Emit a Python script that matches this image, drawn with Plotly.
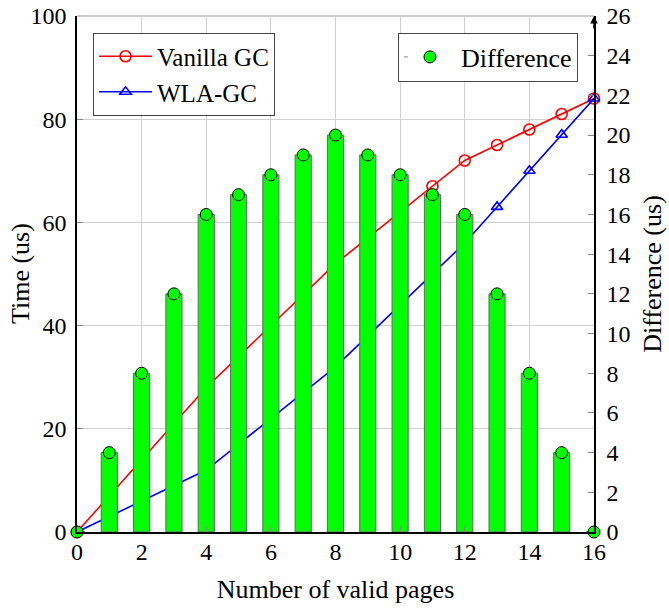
import plotly.graph_objects as go

pages = list(range(17))
vanilla = [0, 7, 14, 21, 28, 34, 40, 46, 52, 57, 62, 67, 72, 75, 78, 81, 84]
wla = [0, 3, 6, 9, 12, 17, 22, 27, 32, 38, 44, 50, 56, 63, 70, 77, 84]
diff = [0, 4, 8, 12, 16, 17, 18, 19, 20, 19, 18, 17, 16, 12, 8, 4, 0]
x_ticks = list(range(0, 17, 2))
y_ticks = list(range(0, 101, 20))
y2_ticks = list(range(0, 27, 2))

FONT = "Liberation Serif"
TICK = 24
TITLE = 26
LEG = 25
fig = go.Figure()

fig.add_trace(go.Scatter(
    x=pages, y=vanilla, name="Vanilla GC", mode="lines+markers",
    line=dict(color="#ff0000", width=1.6),
    marker=dict(symbol="circle-open", size=11, color="#ff0000", line=dict(width=1.6)),
    legend="legend", cliponaxis=False, xaxis="x", yaxis="y"))
fig.add_trace(go.Scatter(
    x=pages, y=wla, name="WLA-GC", mode="lines+markers",
    line=dict(color="#0000ff", width=1.6),
    marker=dict(symbol="triangle-up-open", size=10, color="#0000ff", line=dict(width=1.6)),
    legend="legend", cliponaxis=False, xaxis="x", yaxis="y"))

fig.add_trace(go.Bar(
    x=pages, y=diff, width=0.5, showlegend=False,
    marker=dict(color="#00ff00", line=dict(color="#666666", width=1)),
    xaxis="x", yaxis="y2"))
fig.add_trace(go.Scatter(
    x=pages, y=diff, mode="markers", showlegend=False,
    marker=dict(symbol="circle", size=12, color="#00ff00", line=dict(color="#000000", width=1)),
    cliponaxis=False, xaxis="x", yaxis="y2"))
# legend entry for Difference
fig.add_trace(go.Scatter(
    x=[None], y=[None], name="Difference", mode="lines+markers",
    line=dict(color="#888888", width=1, dash="4px,22px"),
    marker=dict(symbol="circle", size=12, color="#00ff00", line=dict(color="#000000", width=1)),
    legend="legend2", xaxis="x", yaxis="y2"))

fig.update_layout(
    width=669, height=609,
    margin=dict(l=77, r=75, t=16, b=77),
    plot_bgcolor="white", paper_bgcolor="white",
    font=dict(family=FONT, size=TITLE, color="#000000"),
    showlegend=True,
    xaxis=dict(
        range=[0, 16], tickvals=x_ticks, ticks="inside", ticklen=5, tickcolor="#888888",
        showgrid=True, gridcolor="#d0d0d0", gridwidth=1, zeroline=False,
        showline=True, linecolor="#000000", linewidth=1.5, automargin=False,
        ticklabelstandoff=-3, ticklabeloverflow="allow",
        title=dict(text="Number of valid pages", standoff=16, font=dict(size=TITLE)),
        tickfont=dict(size=TICK),
    ),
    yaxis=dict(
        range=[0, 100], tickvals=y_ticks, ticks="inside", ticklen=6, tickcolor="#888888",
        showgrid=True, gridcolor="#d0d0d0", gridwidth=1, zeroline=False,
        showline=True, linecolor="#000000", linewidth=1.5, automargin=False,
        ticklabelstandoff=4, ticklabeloverflow="allow",
        tickfont=dict(size=TICK),
    ),
    yaxis2=dict(
        range=[0, 26], tickvals=y2_ticks, overlaying="y", side="right",
        ticks="inside", ticklen=6, tickcolor="#888888",
        showgrid=False, zeroline=False, automargin=False,
        showline=True, linecolor="#000000", linewidth=1.5,
        ticklabelstandoff=6, ticklabeloverflow="allow",
        title=dict(text="Difference (us)", standoff=13, font=dict(size=TITLE)),
        tickfont=dict(size=TICK),
    ),
    legend=dict(
        x=0.031, y=0.968, xanchor="left", yanchor="top",
        bgcolor="white", bordercolor="#444444", borderwidth=1,
        font=dict(size=LEG), itemwidth=53, tracegroupgap=0,
    ),
    legend2=dict(
        x=0.969, y=0.968, xanchor="right", yanchor="top",
        bgcolor="white", bordercolor="#444444", borderwidth=1,
        font=dict(size=26), itemwidth=52,
    ),
    barmode="overlay",
)

# left axis title
fig.add_annotation(
    x=0, y=0.5, xref="paper", yref="paper", xanchor="center", yanchor="middle",
    xshift=-57, text="Time (us)", textangle=-90, showarrow=False,
    font=dict(size=TITLE, family=FONT),
)

# top border of plot area (grid line at the upper range end)
fig.add_shape(type="line", xref="paper", yref="paper", x0=0, x1=1, y0=1, y1=1,
              line=dict(color="#bbbbbb", width=1.5), layer="below")

fig.add_annotation(
    x=1, y=1, xref="paper", yref="paper", ax=0, ay=14, axref="pixel", ayref="pixel",
    text="", showarrow=True, arrowhead=2, arrowsize=1, arrowwidth=1.5, arrowcolor="#000000",
)

fig.write_html("out.html", config={"displayModeBar": False},
               post_script="document.body.style.margin='0';")
